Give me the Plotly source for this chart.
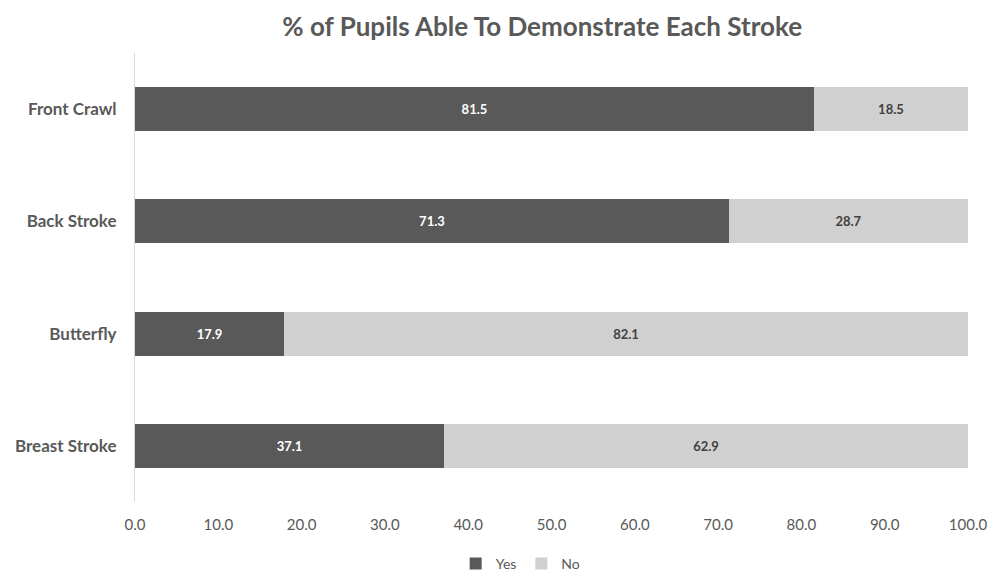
import plotly.graph_objects as go

strokes = ["Front Crawl", "Back Stroke", "Butterfly", "Breast Stroke"]
yes_pct = [81.5, 71.3, 17.9, 37.1]
no_pct = [18.5, 28.7, 82.1, 62.9]
tick_vals = [0, 10, 20, 30, 40, 50, 60, 70, 80, 90, 100]

FONT = "Lato, 'Open Sans', sans-serif"
GREY_TEXT = "#595959"

fig = go.Figure()
fig.add_trace(go.Bar(
    name="Yes", y=strokes, x=yes_pct, orientation="h",
    marker=dict(color="#595959", line=dict(width=0)),
    text=[f"{v:.1f}" for v in yes_pct], textposition="inside",
    insidetextanchor="middle",
    textfont=dict(color="white", size=13, family=FONT, weight="bold"),
))
fig.add_trace(go.Bar(
    name="No", y=strokes, x=no_pct, orientation="h",
    marker=dict(color="#d0d0d0", line=dict(width=0)),
    text=[f"{v:.1f}" for v in no_pct], textposition="inside",
    insidetextanchor="middle",
    textfont=dict(color="#404040", size=13, family=FONT, weight="bold"),
))

fig.update_layout(
    barmode="stack",
    bargap=0.61,
    width=993, height=576,
    margin=dict(l=135, r=25, t=53, b=74, autoexpand=False),
    paper_bgcolor="white", plot_bgcolor="white",
    title=dict(text="% of Pupils Able To Demonstrate Each Stroke",
               x=0.546, xanchor="center", y=0.953, yanchor="middle",
               font=dict(family=FONT, size=26, color=GREY_TEXT, weight="bold")),
    xaxis=dict(range=[0, 100], tickvals=tick_vals,
               ticktext=[f"{v:.1f}" for v in tick_vals],
               showgrid=False, zeroline=False, showline=False,
               tickfont=dict(family=FONT, size=15, color=GREY_TEXT),
               ticks="", ticklabelstandoff=12),
    yaxis=dict(categoryorder="array", categoryarray=strokes[::-1],
               showgrid=False, zeroline=False,
               showline=True, linecolor="#d9d9d9", linewidth=1,
               ticks="", ticklabelstandoff=14,
               tickfont=dict(family=FONT, size=17, color=GREY_TEXT, weight="bold")),
    legend=dict(orientation="h", x=0.463, xanchor="center", y=-0.138, yanchor="middle",
                font=dict(family=FONT, size=14, color=GREY_TEXT),
                itemwidth=30, traceorder="normal"),
    uniformtext=dict(mode="show", minsize=10),
)

fig.write_html("out.html")
